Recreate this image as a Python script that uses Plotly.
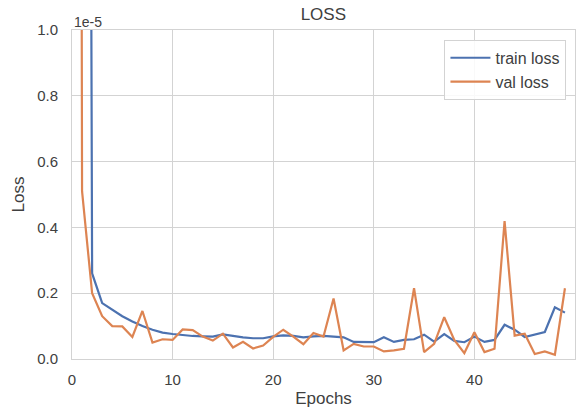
import numpy as np
import plotly.graph_objects as go

# values in units of 1e-5
epochs = list(range(50))
train_loss = [20.0, 10.0, 0.26, 0.17, 0.15, 0.13, 0.114, 0.10, 0.089, 0.08,
              0.076, 0.072, 0.070, 0.069, 0.068, 0.075, 0.070, 0.066, 0.063, 0.063,
              0.069, 0.072, 0.070, 0.066, 0.069, 0.070, 0.068, 0.066, 0.052, 0.051,
              0.051, 0.066, 0.052, 0.058, 0.060, 0.074, 0.053, 0.076, 0.055, 0.051,
              0.068, 0.052, 0.058, 0.104, 0.089, 0.067, 0.074, 0.082, 0.157, 0.141]
val_loss = [16.0, 0.51, 0.20, 0.13, 0.10, 0.099, 0.067, 0.146, 0.050, 0.060,
            0.058, 0.090, 0.088, 0.068, 0.056, 0.077, 0.035, 0.052, 0.032, 0.041,
            0.067, 0.089, 0.068, 0.045, 0.079, 0.068, 0.184, 0.026, 0.046, 0.038,
            0.038, 0.023, 0.026, 0.031, 0.215, 0.021, 0.046, 0.127, 0.058, 0.018,
            0.081, 0.021, 0.031, 0.419, 0.071, 0.077, 0.015, 0.023, 0.013, 0.215]
scale = 1e-5
y_ticks = [0.0, 0.2, 0.4, 0.6, 0.8, 1.0]
x_ticks = [0, 10, 20, 30, 40, 50]

FONT = "Liberation Sans, Arial, sans-serif"
TXT = "#404040"
GRID = "#d3d3d3"

fig = go.Figure()
fig.add_trace(go.Scatter(x=epochs, y=np.array(train_loss) * scale, mode="lines",
                         name="train loss", line=dict(color="#4C72B0", width=2.2)))
fig.add_trace(go.Scatter(x=epochs, y=np.array(val_loss) * scale, mode="lines",
                         name="val loss", line=dict(color="#DD8452", width=2.2)))

fig.update_layout(
    width=580, height=414,
    margin=dict(l=72, r=5, t=30, b=55, autoexpand=False),
    paper_bgcolor="white", plot_bgcolor="white",
    font=dict(family=FONT, size=15, color=TXT),
    title=dict(text="LOSS", x=0.5575, xanchor="center", y=0.965, yanchor="middle",
               font=dict(size=17, color=TXT)),
    showlegend=True,
    legend=dict(x=0.983, y=0.97, xanchor="right", yanchor="top",
                bgcolor="rgba(255,255,255,0.85)", bordercolor=GRID, borderwidth=1,
                font=dict(size=16, color=TXT), itemwidth=40, tracegroupgap=0),
)
fig.update_xaxes(
    range=[0, 50], tickvals=x_ticks, ticktext=[str(t) for t in x_ticks],
    showgrid=True, gridcolor=GRID, gridwidth=1,
    showline=True, linecolor=GRID, linewidth=1, mirror=True,
    ticks="outside", ticklen=7, tickcolor="rgba(0,0,0,0)",
    zeroline=False,
    title=dict(text="Epochs", font=dict(size=17, color=TXT), standoff=5),
)
fig.update_yaxes(
    range=[0, 1.0 * scale], tickvals=[t * scale for t in y_ticks],
    ticktext=[f"{t:.1f}" for t in y_ticks],
    showgrid=True, gridcolor=GRID, gridwidth=1,
    showline=True, linecolor=GRID, linewidth=1, mirror=True,
    ticks="outside", ticklen=10, tickcolor="rgba(0,0,0,0)",
    zeroline=False,
    title=dict(text="Loss", font=dict(size=17, color=TXT), standoff=8),
)
fig.add_annotation(text="1e-5", xref="paper", yref="paper", x=0, y=1.0,
                   xanchor="left", yanchor="bottom", showarrow=False,
                   font=dict(size=14, color=TXT), yshift=-2)

fig.write_html("out.html", config={"displayModeBar": False},
               post_script="document.body.style.margin='0';")
